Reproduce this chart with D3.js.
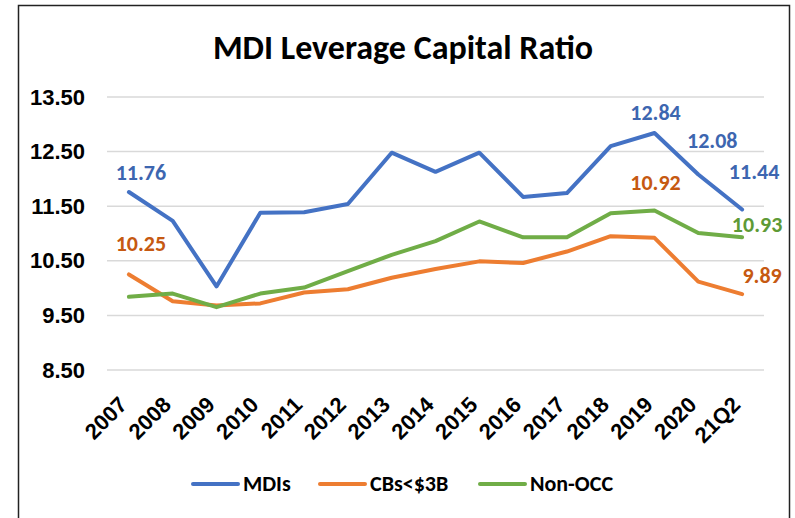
<!DOCTYPE html>
<html>
<head>
<meta charset="utf-8">
<script src="https://cdn.jsdelivr.net/npm/d3@7"></script>
<style>
  body { margin: 0; background: #fff; }
  svg { font-family: Carlito, Calibri, Lato, "Open Sans", sans-serif; font-weight: bold; }
  .grid line { stroke: #d9d9d9; stroke-width: 1.5; }
  .axis path, .axis line { display: none; }
</style>
</head>
<body>
<svg id="chart" width="795" height="518"></svg>
<script>
var years = ["2007", "2008", "2009", "2010", "2011", "2012", "2013", "2014", "2015", "2016", "2017", "2018", "2019", "2020", "21Q2"];
var mdis = [11.76, 11.23, 10.03, 11.38, 11.39, 11.54, 12.48, 12.13, 12.48, 11.67, 11.74, 12.60, 12.84, 12.08, 11.44];
var cbs = [10.25, 9.76, 9.68, 9.72, 9.92, 9.98, 10.19, 10.35, 10.49, 10.46, 10.67, 10.95, 10.92, 10.12, 9.89];
var nonOcc = [9.84, 9.90, 9.65, 9.90, 10.01, 10.31, 10.61, 10.86, 11.22, 10.93, 10.93, 11.37, 11.42, 11.01, 10.93];
var yTicks = [8.5, 9.5, 10.5, 11.5, 12.5, 13.5];

var series = [
    { name: "MDIs", values: mdis, color: "#4472C4", labelColor: "#3D66B0" },
    { name: "CBs<$3B", values: cbs, color: "#ED7D31", labelColor: "#C65911" },
    { name: "Non-OCC", values: nonOcc, color: "#70AD47", labelColor: "#5E9A36" }
];

var svg = d3.select("#chart");

// outer frame
svg.append("rect")
    .attr("x", 18.5).attr("y", 5.5)
    .attr("width", 771).attr("height", 530)
    .attr("fill", "none").attr("stroke", "#222").attr("stroke-width", 1.5);

svg.append("text")
    .attr("x", 403).attr("y", 59)
    .attr("text-anchor", "middle")
    .attr("font-size", 34)
    .text("MDI Leverage Capital Ratio");

var plot = { left: 107, right: 764, top: 97, bottom: 370 };

var x = d3.scalePoint().domain(years).range([plot.left, plot.right]).padding(0.5);
var y = d3.scaleLinear().domain([8.5, 13.5]).range([plot.bottom, plot.top]);

svg.append("g")
    .attr("class", "grid")
    .selectAll("line")
    .data(yTicks)
    .enter().append("line")
    .attr("x1", plot.left).attr("x2", plot.right)
    .attr("y1", function(d) { return y(d); })
    .attr("y2", function(d) { return y(d); });

var yAxis = d3.axisLeft(y).tickValues(yTicks).tickFormat(d3.format(".2f")).tickSize(0).tickPadding(22);
svg.append("g")
    .attr("class", "axis")
    .attr("transform", "translate(" + plot.left + ",0)")
    .call(yAxis)
    .selectAll("text")
    .attr("font-size", 22)
    .attr("fill", "#000");

var xAxis = d3.axisBottom(x).tickSize(0);
svg.append("g")
    .attr("class", "axis")
    .attr("transform", "translate(0," + plot.bottom + ")")
    .call(xAxis)
    .selectAll("text")
    .attr("font-size", 22)
    .attr("fill", "#000")
    .attr("text-anchor", "end")
    .attr("dy", 0)
    .attr("transform", "translate(-3,34) rotate(-45)");

var line = d3.line()
    .x(function(d, i) { return x(years[i]); })
    .y(function(d) { return y(d); });

series.forEach(function(s) {
    svg.append("path")
        .datum(s.values)
        .attr("fill", "none")
        .attr("stroke", s.color)
        .attr("stroke-width", 4)
        .attr("stroke-linejoin", "round")
        .attr("stroke-linecap", "round")
        .attr("d", line);
});

// data labels: [series index, category index, dx, dy]
var labels = [
    [0, 0, 12, -12],
    [1, 0, 12, -23],
    [0, 12, 1, -13],
    [0, 13, 14, -27],
    [0, 14, 12, -30],
    [1, 12, 1, -48],
    [2, 14, 15, -5],
    [1, 14, 20, -11]
];
labels.forEach(function(l) {
    var s = series[l[0]];
    svg.append("text")
        .attr("x", x(years[l[1]]) + l[2])
        .attr("y", y(s.values[l[1]]) + l[3])
        .attr("text-anchor", "middle")
        .attr("font-size", 22)
        .attr("fill", s.labelColor)
        .text(d3.format(".2f")(s.values[l[1]]));
});

// legend
var legendX = [193, 320, 480];
var legend = svg.selectAll(".legend")
    .data(series)
    .enter().append("g")
    .attr("class", "legend")
    .attr("transform", function(d, i) { return "translate(" + legendX[i] + ",484)"; });
legend.append("line")
    .attr("x1", 0).attr("x2", 45)
    .attr("stroke", function(d) { return d.color; })
    .attr("stroke-width", 4)
    .attr("stroke-linecap", "round");
legend.append("text")
    .attr("x", 50).attr("y", 7)
    .attr("font-size", 22)
    .text(function(d) { return d.name; });
</script>
</body>
</html>
